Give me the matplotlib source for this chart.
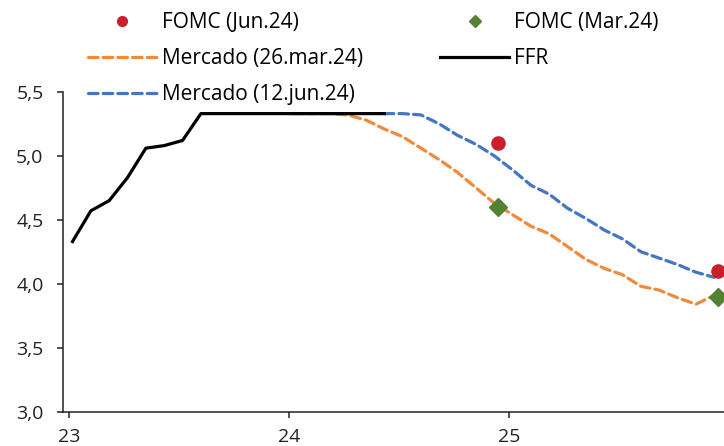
import numpy as np
import matplotlib
matplotlib.use("Agg")
import matplotlib.pyplot as plt
from matplotlib.lines import Line2D

plt.rcParams["font.family"] = ["Open Sans", "DejaVu Sans"]

# ── Data (x in months since Jan 2023) ─────────────────────────
ffr_months = np.arange(0, 18) + 0.17
ffr = [4.33, 4.57, 4.65, 4.83, 5.06, 5.08, 5.12, 5.33, 5.33,
       5.33, 5.33, 5.33, 5.33, 5.33, 5.33, 5.33, 5.33, 5.33]

mkt_mar_months = np.arange(12, 36) + 0.17
mkt_mar = [5.33, 5.33, 5.33, 5.32, 5.28, 5.21, 5.15, 5.06, 4.97, 4.87,
           4.75, 4.63, 4.54, 4.45, 4.39, 4.29, 4.19, 4.12, 4.07, 3.98,
           3.95, 3.89, 3.84, 3.91]

mkt_jun_months = np.arange(17, 36) + 0.17
mkt_jun = [5.33, 5.33, 5.32, 5.25, 5.16, 5.09, 5.00, 4.89, 4.77, 4.70,
           4.59, 4.51, 4.42, 4.35, 4.25, 4.20, 4.15, 4.09, 4.05]

fomc_months = [23.35, 35.4]
fomc_jun = [5.10, 4.10]
fomc_mar = [4.60, 3.90]

xtick_pos = [0, 12, 24]
xtick_labels = ["23", "24", "25"]
ytick_pos = [3.0, 3.5, 4.0, 4.5, 5.0, 5.5]
ytick_labels = ["3,0", "3,5", "4,0", "4,5", "5,0", "5,5"]

# ── Colours ───────────────────────────────────────────────────
ORANGE = "#F08A3C"
BLUE = "#4576C4"
RED = "#C8202B"
GREEN = "#548235"

fig = plt.figure(figsize=(7.24, 4.46), dpi=100)
ax = fig.add_axes([0.087, 0.077, 0.913, 0.717])

dash = (3.0, 1.6)
ax.plot(mkt_mar_months, mkt_mar, color=ORANGE, lw=2.3, ls=(0, dash),
        dash_capstyle="round", zorder=2)
ax.plot(mkt_jun_months, mkt_jun, color=BLUE, lw=2.3, ls=(0, dash),
        dash_capstyle="round", zorder=2)
ax.plot(ffr_months, ffr, color="black", lw=2.3, zorder=3)
ax.plot(fomc_months, fomc_jun, ls="none", marker="o", ms=9.5,
        color=RED, zorder=4, clip_on=False)
ax.plot(fomc_months, fomc_mar, ls="none", marker="D", ms=9,
        color=GREEN, zorder=4, clip_on=False)

ax.set_xlim(-0.35, 35.7)
ax.set_ylim(3.0, 5.5)
ax.set_xticks(xtick_pos)
ax.set_xticklabels(xtick_labels)
ax.set_yticks(ytick_pos)
ax.set_yticklabels(ytick_labels)

for sp in ["top", "right"]:
    ax.spines[sp].set_visible(False)
for sp in ["bottom", "left"]:
    ax.spines[sp].set_color("#222222")
    ax.spines[sp].set_linewidth(1.1)
ax.tick_params(axis="y", direction="out", length=4.5, width=1.1,
               pad=9.5, labelsize=14, colors="#222222")
ax.tick_params(axis="x", direction="out", length=4, width=1.1,
               pad=8, labelsize=14, colors="#222222")

# ── Legend ────────────────────────────────────────────────────
handles = [
    Line2D([], [], ls="none", marker="o", ms=7, color=RED),
    Line2D([], [], color=ORANGE, lw=2.3, ls=(0, dash), dash_capstyle="round"),
    Line2D([], [], color=BLUE, lw=2.3, ls=(0, dash), dash_capstyle="round"),
    Line2D([], [], ls="none", marker="D", ms=6.5, color=GREEN),
    Line2D([], [], color="black", lw=2.3),
]
labels = ["FOMC (Jun.24)", "Mercado (26.mar.24)", "Mercado (12.jun.24)",
          "FOMC (Mar.24)", "FFR"]
fig.legend(handles, labels, ncol=2, loc="upper left",
           bbox_to_anchor=(0.1215, 0.973), frameon=False, fontsize=15,
           handlelength=3.3, handletextpad=0.25, columnspacing=3.7,
           labelspacing=0.72, borderpad=0, borderaxespad=0)

fig.savefig("out.png", dpi=100)
